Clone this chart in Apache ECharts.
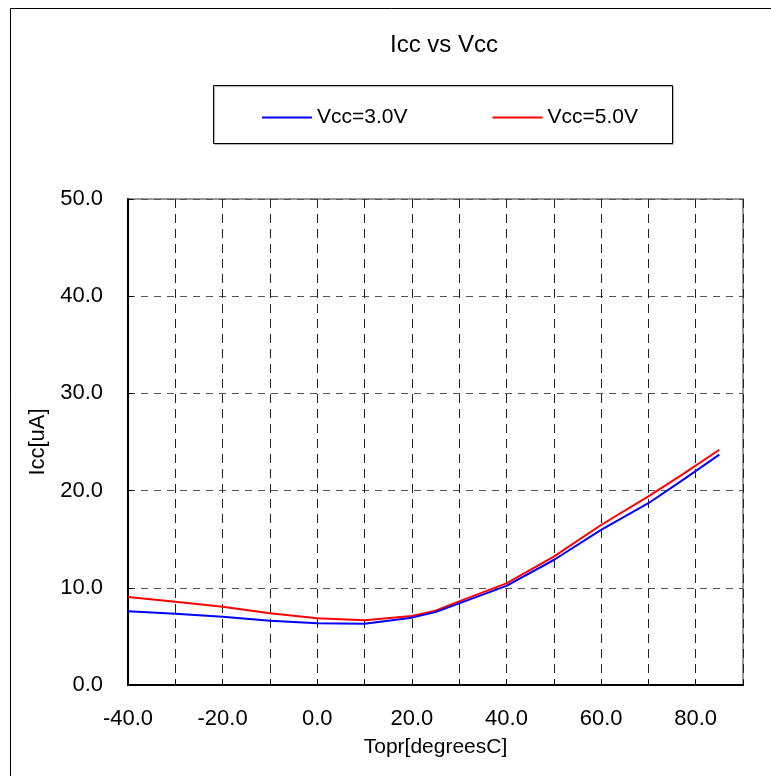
<!DOCTYPE html>
<html>
<head>
<meta charset="utf-8">
<script src="https://cdn.jsdelivr.net/npm/echarts@6/dist/echarts.min.js"></script>
<style>
  html, body { margin: 0; padding: 0; background: #fff; }
  #chart { width: 771px; height: 776px; }
</style>
</head>
<body>
<div id="chart"></div>
<script>
// temperature points (degrees C)
const temps = [-40, -30, -20, -10, 0, 10, 20, 25, 30, 40, 50, 60, 70, 77, 85]
// Icc at Vcc=3.0V (uA)
const icc3v = [7.58, 7.34, 7.03, 6.62, 6.35, 6.3, 6.93, 7.5, 8.4, 10.2, 12.86, 15.95, 18.7, 21.0, 23.7]
// Icc at Vcc=5.0V (uA)
const icc5v = [9.05, 8.57, 8.06, 7.37, 6.86, 6.65, 7.1, 7.65, 8.6, 10.45, 13.2, 16.46, 19.4, 21.6, 24.2]

const seriesNames = ['Vcc=3.0V', 'Vcc=5.0V']
const font = 'Liberation Sans, Arial, sans-serif'

const pair = (xs, ys) => xs.map((x, i) => [x, ys[i]])

const chart = echarts.init(document.getElementById('chart'))

const option = {
  animation: false,
  backgroundColor: '#fff',
  title: {
    text: 'Icc vs Vcc',
    left: 439,
    top: 28,
    textAlign: 'center',
    textStyle: { fontFamily: font, fontSize: 24, fontWeight: 'normal', color: '#000' }
  },
  legend: {
    left: 257,
    top: 102,
    icon: 'rect',
    itemWidth: 50,
    itemHeight: 2,
    itemGap: 85,
    textStyle: { fontFamily: font, fontSize: 21, color: '#000' },
    data: seriesNames
  },
  graphic: [
    {
      type: 'rect',
      shape: { x: 10.5, y: 8.5, width: 800, height: 800 },
      style: { fill: 'none', stroke: '#000', lineWidth: 1 },
      silent: true
    },
    {
      type: 'rect',
      shape: { x: 213.5, y: 85.5, width: 459, height: 58 },
      style: { fill: 'none', stroke: '#000', lineWidth: 1, shadowColor: 'rgba(0,0,0,0.35)', shadowOffsetX: 1, shadowOffsetY: 1, shadowBlur: 1 },
      silent: true,
      z: -1
    }
  ],
  grid: {
    left: 128,
    top: 199,
    width: 615,
    height: 486,
    show: true,
    borderColor: '#999',
    borderWidth: 2
  },
  xAxis: {
    type: 'value',
    min: -40,
    max: 90,
    interval: 10,
    name: 'Topr[degreesC]',
    nameLocation: 'middle',
    nameGap: 52,
    nameTextStyle: { fontFamily: font, fontSize: 21, color: '#000' },
    axisLine: { onZero: false, lineStyle: { color: '#000', width: 2 } },
    axisTick: { inside: true, length: 5, lineStyle: { color: '#000' } },
    axisLabel: {
      fontFamily: font, fontSize: 22, color: '#000', margin: 23,
      formatter: v => (v % 20 === 0 && v < 90) ? v.toFixed(1) : ''
    },
    splitLine: { show: true, lineStyle: { color: '#222', type: [9, 6], width: 1 } }
  },
  yAxis: {
    type: 'value',
    min: 0,
    max: 50,
    interval: 10,
    name: 'Icc[uA]',
    nameLocation: 'middle',
    nameGap: 73,
    nameTextStyle: { fontFamily: font, fontSize: 22, color: '#000' },
    axisLine: { show: true, onZero: false, lineStyle: { color: '#000', width: 2 } },
    axisTick: { show: true, inside: true, length: 5, lineStyle: { color: '#000' } },
    axisLabel: {
      fontFamily: font, fontSize: 22, color: '#000', margin: 25,
      formatter: v => v.toFixed(1)
    },
    splitLine: { show: true, lineStyle: { color: '#555', type: [7, 6], width: 1 } }
  },
  series: [
    {
      name: seriesNames[0],
      type: 'line',
      data: pair(temps, icc3v),
      symbol: 'none',
      color: '#0000ff',
      lineStyle: { color: '#0000ff', width: 2 },
      z: 3
    },
    {
      name: seriesNames[1],
      type: 'line',
      data: pair(temps, icc5v),
      symbol: 'none',
      color: '#ff0000',
      lineStyle: { color: '#ff0000', width: 2 },
      z: 2
    }
  ]
}

chart.setOption(option)
</script>
</body>
</html>
